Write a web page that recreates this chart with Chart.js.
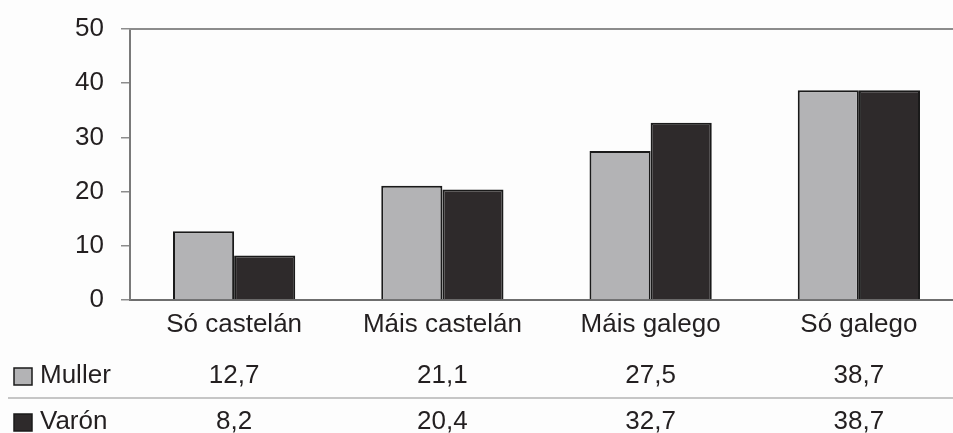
<!DOCTYPE html>
<html>
<head>
<meta charset="utf-8">
<script src="https://cdn.jsdelivr.net/npm/chart.js@4"></script>
<style>
html,body{margin:0;padding:0;background:#fdfdfd;overflow:hidden;}
#wrap{width:963px;height:433px;position:relative;}
</style>
</head>
<body>
<div id="wrap"><canvas id="c" width="963" height="433"></canvas></div>
<script>
const categories = ['Só castelán', 'Máis castelán', 'Máis galego', 'Só galego'];
const seriesNames = ['Muller', 'Varón'];
const mullerValues = [12.7, 21.1, 27.5, 38.7];
const varonValues = [8.2, 20.4, 32.7, 38.7];
const yTicks = [0, 10, 20, 30, 40, 50];

const FONT = "'Liberation Sans', Arial, sans-serif";
const TEXT = '#231f20';
const fills = ['#b3b3b5', '#2e2a2b'];

const fmt = v => v.toFixed(1).replace('.', ',');

const framePlugin = {
  id: 'frame',
  afterDatasetsDraw(chart) {
    const {ctx, chartArea} = chart;
    ctx.save();
    ctx.strokeStyle = '#8c8c8c';
    ctx.lineWidth = 2;
    ctx.beginPath();
    ctx.moveTo(chartArea.left - 1, chartArea.top);
    ctx.lineTo(chart.width, chartArea.top);
    ctx.stroke();
    ctx.restore();
  }
};

const tablePlugin = {
  id: 'table',
  afterDraw(chart) {
    const {ctx} = chart;
    const xs = chart.scales.x;
    const rows = [mullerValues, varonValues];
    const rowY = [376, 422];
    ctx.save();
    ctx.strokeStyle = '#c6c6c6';
    ctx.lineWidth = 2;
    ctx.beginPath();
    ctx.moveTo(8, 398);
    ctx.lineTo(chart.width, 398);
    ctx.stroke();
    ctx.font = '26px ' + FONT;
    ctx.textBaseline = 'middle';
    rows.forEach((vals, r) => {
      ctx.fillStyle = fills[r];
      ctx.fillRect(14, rowY[r] - 8, 18, 17);
      ctx.strokeStyle = '#1a1a1a';
      ctx.lineWidth = 1.5;
      ctx.strokeRect(14, rowY[r] - 8, 18, 17);
      ctx.fillStyle = TEXT;
      ctx.textAlign = 'left';
      ctx.fillText(seriesNames[r], 40, rowY[r]);
      ctx.textAlign = 'center';
      vals.forEach((v, i) => {
        ctx.fillText(fmt(v), xs.getPixelForValue(i), rowY[r]);
      });
    });
    ctx.restore();
  }
};

new Chart(document.getElementById('c'), {
  type: 'bar',
  data: {
    labels: categories,
    datasets: [
      {label: seriesNames[0], data: mullerValues, backgroundColor: fills[0], borderColor: '#1a1a1a', borderWidth: 2, borderSkipped: 'bottom'},
      {label: seriesNames[1], data: varonValues, backgroundColor: fills[1], borderColor: '#1a1a1a', borderWidth: 2, borderSkipped: 'bottom'}
    ]
  },
  options: {
    responsive: false,
    animation: false,
    devicePixelRatio: 1,
    maintainAspectRatio: false,
    layout: {padding: {top: 29, left: 0, right: 0, bottom: 0}},
    plugins: {legend: {display: false}, tooltip: {enabled: false}},
    datasets: {bar: {categoryPercentage: 0.587, barPercentage: 1}},
    scales: {
      x: {
        grid: {display: false, drawTicks: false},
        border: {display: true, color: '#6e6e6e', width: 2},
        ticks: {font: {size: 26, family: FONT}, color: TEXT, padding: 9, maxRotation: 0, autoSkip: false},
        afterFit(s) { s.height = 133; }
      },
      y: {
        min: 0, max: 50,
        afterBuildTicks(s) { s.ticks = yTicks.map(v => ({value: v})); },
        grid: {drawOnChartArea: false, drawTicks: true, tickLength: 9, color: '#8c8c8c', lineWidth: 1.5},
        border: {display: true, color: '#7a7a7a', width: 2},
        ticks: {font: {size: 26, family: FONT}, color: TEXT, padding: 17},
        afterFit(s) { s.width = 130; s.paddingTop = 0; s.paddingBottom = 0; }
      }
    }
  },
  plugins: [framePlugin, tablePlugin]
});
</script>
</body>
</html>
